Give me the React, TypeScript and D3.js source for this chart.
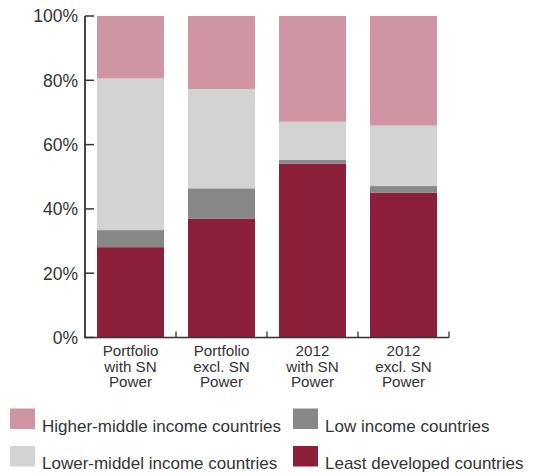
import React from "react";
import * as d3 from "d3";

const categories = [
  ["Portfolio", "with SN", "Power"],
  ["Portfolio", "excl. SN", "Power"],
  ["2012", "with SN", "Power"],
  ["2012", "excl. SN", "Power"],
];
const seriesNames = [
  "Least developed countries",
  "Low income countries",
  "Lower-middel income countries",
  "Higher-middle income countries",
];
const leastDeveloped = [28.1, 36.9, 54.1, 45.0];
const lowIncome = [5.3, 9.5, 1.1, 2.1];
const lowerMiddle = [47.2, 30.9, 11.9, 18.8];
const higherMiddle = [19.4, 22.7, 32.9, 34.1];
const yTicks = [0, 20, 40, 60, 80, 100];
const colors = ["#8c1f3a", "#878787", "#d3d3d3", "#cf95a3"];

const FONT = "'Liberation Sans', Arial, Helvetica, sans-serif";

export default function App() {
  const W = 549, H = 473;
  const x0 = 85, x1 = 449, yTop = 16, yBot = 337.5;
  const keys = categories.map((c) => c.join(" "));
  const x = d3.scaleBand().domain(keys).range([x0, x1]).paddingInner(0.264).paddingOuter(0.132);
  const y = d3.scaleLinear().domain([0, 100]).range([yBot, yTop]);
  const rows = keys.map((k, i) => ({
    key: k,
    s0: leastDeveloped[i],
    s1: lowIncome[i],
    s2: lowerMiddle[i],
    s3: higherMiddle[i],
  }));
  const stack = d3.stack<any>().keys(["s0", "s1", "s2", "s3"]);
  const series = stack(rows);
  const step = x.step();

  const legend = [
    { name: seriesNames[3], color: colors[3], sx: 10, sy: 408.5, tx: 42, ty: 431.5 },
    { name: seriesNames[1], color: colors[1], sx: 293, sy: 408.5, tx: 325, ty: 431.5 },
    { name: seriesNames[2], color: colors[2], sx: 10, sy: 446, tx: 42, ty: 469 },
    { name: seriesNames[0], color: colors[0], sx: 293, sy: 446, tx: 325, ty: 469 },
  ];

  return (
    <svg width={W} height={H} style={{ position: "absolute", left: 0, top: 0, background: "#fff" }} fontFamily={FONT}>
      {series.map((s, si) => (
        <g key={si} fill={colors[si]}>
          {s.map((d, di) => (
            <rect
              key={di}
              x={x(keys[di])}
              width={x.bandwidth()}
              y={y(d[1])}
              height={y(d[0]) - y(d[1])}
            />
          ))}
        </g>
      ))}
      <line x1={x0} x2={x0} y1={yTop} y2={yBot} stroke="#333" strokeWidth={1.8} />
      {yTicks.map((t) => (
        <g key={t}>
          <line x1={x0} x2={x0 + 9} y1={y(t)} y2={y(t)} stroke="#333" strokeWidth={1.5} />
          <text x={78} y={y(t)} dy="0.36em" textAnchor="end" fontSize={17.5} fill="#333">
            {t}%
          </text>
        </g>
      ))}
      <line x1={x0 - 0.9} x2={x1} y1={yBot} y2={yBot} stroke="#333" strokeWidth={1.5} />
      {keys.map((k, i) => {
        const bx = x0 + step * (i + 1);
        return <line key={k} x1={bx} x2={bx} y1={yBot} y2={yBot - 6} stroke="#333" strokeWidth={1.3} />;
      })}
      {categories.map((lines, i) => (
        <text key={i} textAnchor="middle" fontSize={15.2} fill="#333">
          {lines.map((l, li) => (
            <tspan key={li} x={(x(keys[i]) as number) + x.bandwidth() / 2} y={356 + li * 15.7}>
              {l}
            </tspan>
          ))}
        </text>
      ))}
      {legend.map((l) => (
        <g key={l.name}>
          <rect x={l.sx} y={l.sy} width={25} height={20.5} fill={l.color} />
          <text x={l.tx} y={l.ty} fontSize={17} fill="#333">
            {l.name}
          </text>
        </g>
      ))}
    </svg>
  );
}
